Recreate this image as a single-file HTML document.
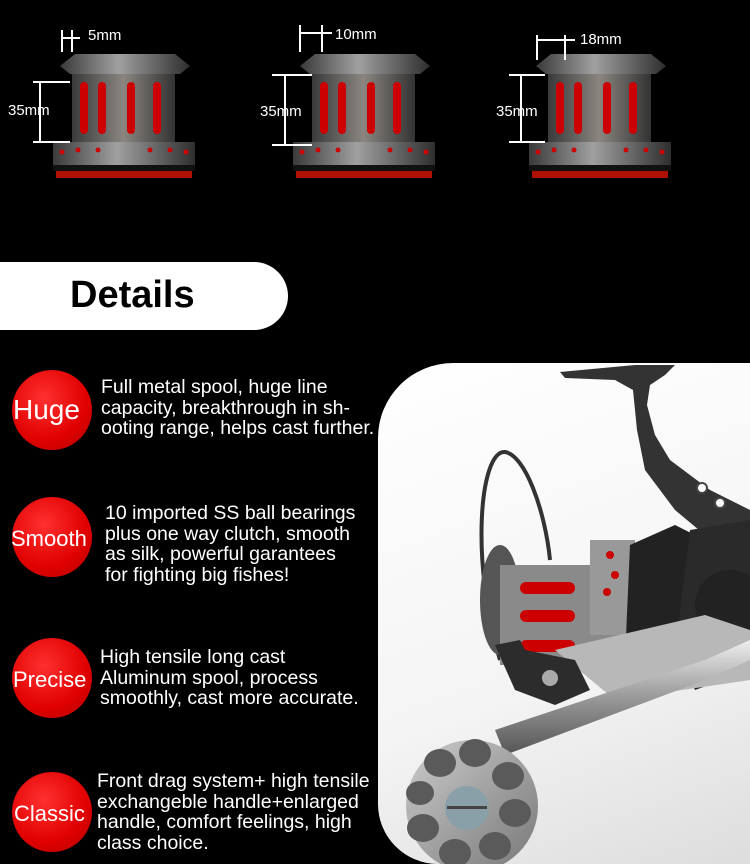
<!DOCTYPE html>
<html><head><meta charset="utf-8"><style>
body{margin:0;background:#000;}
#c{position:relative;width:750px;height:864px;background:#000;overflow:hidden;font-family:"Liberation Sans",sans-serif;color:#fff;}
.t{position:absolute;font-size:19.5px;line-height:20.5px;white-space:nowrap}
.circ{position:absolute;width:80px;height:80px;border-radius:50%;background:radial-gradient(circle at 40% 35%,#ff3030,#e00000 60%,#b00000);}
.lab{position:absolute;font-size:22px;white-space:nowrap;color:#fff}
</style></head><body><div id="c">
<svg width="750" height="200" style="position:absolute;left:0;top:0">
<defs>
<linearGradient id="m" x1="0" x2="1"><stop offset="0" stop-color="#3a3a3a"/><stop offset=".45" stop-color="#a0a0a0"/><stop offset="1" stop-color="#2e2e2e"/></linearGradient>
<linearGradient id="b" x1="0" x2="1"><stop offset="0" stop-color="#3a3a3a"/><stop offset=".5" stop-color="#8a8580"/><stop offset="1" stop-color="#333"/></linearGradient>
</defs>
<g id="s1">
<rect x="72" y="70" width="103" height="74" fill="url(#b)"/>
<rect x="80" y="82" width="8" height="52" rx="4" fill="#c00"/><rect x="98" y="82" width="8" height="52" rx="4" fill="#c00"/><rect x="127" y="82" width="8" height="52" rx="4" fill="#c00"/><rect x="153" y="82" width="8" height="52" rx="4" fill="#c00"/>
<path d="M75 54 H175 L190 66 L180 74 H70 L60 66Z" fill="url(#m)"/>
<rect x="53" y="142" width="142" height="28" fill="url(#m)"/>
<g fill="#c00"><circle cx="62" cy="152" r="2.5"/><circle cx="78" cy="150" r="2.5"/><circle cx="98" cy="150" r="2.5"/><circle cx="150" cy="150" r="2.5"/><circle cx="170" cy="150" r="2.5"/><circle cx="186" cy="152" r="2.5"/></g>
<rect x="53" y="165" width="142" height="6" fill="#111"/>
<rect x="56" y="171" width="136" height="7" fill="#b01000"/>
</g>
<use href="#s1" x="240"/>
<use href="#s1" x="476"/>
<g stroke="#fff" stroke-width="2" fill="none">
<path d="M62 30V52M72 30V52M62 38H80M33 82H70M33 142H70M40 82V142"/>
<path d="M300 25V52M322 25V52M300 33H332M272 75H312M272 145H312M285 75V145"/>
<path d="M537 35V60M565 35V60M537 40H575M509 75H545M509 142H545M521 75V142"/>
</g>
<g fill="#fff" font-family="Liberation Sans" font-size="15">
<text x="88" y="40">5mm</text><text x="335" y="39">10mm</text><text x="580" y="44">18mm</text>
<text x="8" y="115">35mm</text><text x="260" y="116">35mm</text><text x="496" y="116">35mm</text>
</g>
</svg>
<div style="position:absolute;left:0;top:262px;width:288px;height:68px;background:#fff;border-radius:0 34px 34px 0"></div>
<div style="position:absolute;left:70px;top:274px;font-size:38px;font-weight:bold;color:#000">Details</div>

<div style="position:absolute;left:378px;top:363px;width:372px;height:501px;background:linear-gradient(160deg,#fff,#f4f4f4 60%,#ddd);border-radius:75px 0 0 60px"></div>
<svg width="375" height="504" style="position:absolute;left:375px;top:360px">
<defs>
<linearGradient id="k" x1="0" x2="1" y1="0" y2="1"><stop offset="0" stop-color="#ccc"/><stop offset="1" stop-color="#777"/></linearGradient>
<linearGradient id="h" x1="0" x2="0" y1="0" y2="1"><stop offset="0" stop-color="#eee"/><stop offset=".5" stop-color="#999"/><stop offset="1" stop-color="#555"/></linearGradient>
</defs>
<path d="M185 12 L260 5 L300 5 L290 15 L275 25 L272 45 L280 75 L295 100 L335 130 L375 150 L375 200 L330 175 L300 150 L270 110 L262 70 L258 30 L240 20 L190 18Z" fill="#333"/>
<circle cx="327" cy="128" r="5" fill="#fff" stroke="#444" stroke-width="2"/><circle cx="345" cy="143" r="5" fill="#fff" stroke="#444" stroke-width="2"/>
<path d="M125 300 C95 200 105 90 130 92 C150 95 170 150 175 200" stroke="#333" stroke-width="4" fill="none"/>
<ellipse cx="125" cy="240" rx="20" ry="55" fill="#555"/>
<rect x="125" y="205" width="130" height="100" fill="#8a8a8a"/>
<rect x="215" y="180" width="45" height="95" fill="#999"/>
<g fill="#c00"><rect x="145" y="222" width="55" height="12" rx="6"/><rect x="145" y="250" width="55" height="12" rx="6"/><rect x="145" y="280" width="55" height="12" rx="6"/><circle cx="235" cy="195" r="4"/><circle cx="240" cy="215" r="4"/><circle cx="232" cy="232" r="4"/></g>
<path d="M255 185 L300 165 L320 175 L330 200 L310 260 L250 300Z" fill="#222"/>
<path d="M315 170 L375 160 L375 310 L320 330 L300 290Z" fill="#2a2a2a"/>
<circle cx="355" cy="245" r="35" fill="#222"/>
<path d="M180 290 L330 255 L375 270 L375 320 L240 340 Z" fill="#b8b8b8"/>
<path d="M120 285 L145 280 L150 290 L200 300 L215 330 L180 345 L140 330Z" fill="#2c2c2c"/>
<circle cx="175" cy="318" r="8" fill="#aaa"/>
<path d="M120 370 L330 300 L375 280 L375 300 L330 320 L130 395Z" fill="url(#h)"/>
<circle cx="97" cy="446" r="66" fill="url(#k)"/>
<g fill="#5a5a5a"><ellipse cx="65" cy="403" rx="16" ry="14"/><ellipse cx="100" cy="393" rx="16" ry="14"/><ellipse cx="133" cy="416" rx="16" ry="14"/><ellipse cx="140" cy="453" rx="16" ry="14"/><ellipse cx="120" cy="486" rx="16" ry="14"/><ellipse cx="80" cy="493" rx="16" ry="14"/><ellipse cx="48" cy="468" rx="16" ry="14"/><ellipse cx="45" cy="433" rx="14" ry="12"/></g>
<circle cx="92" cy="448" r="22" fill="#8aa0a8"/><rect x="72" y="446" width="40" height="3" fill="#444"/>
</svg>

<div class="circ" style="left:12px;top:370px"></div><div class="lab" style="left:13px;top:394px;font-size:28px">Huge</div>
<div class="circ" style="left:12px;top:497px"></div><div class="lab" style="left:11px;top:526px">Smooth</div>
<div class="circ" style="left:12px;top:638px"></div><div class="lab" style="left:13px;top:667px">Precise</div>
<div class="circ" style="left:12px;top:772px"></div><div class="lab" style="left:14px;top:801px">Classic</div>

<div class="t" style="left:101px;top:377px">Full metal spool, huge line<br>capacity, breakthrough in sh-<br>ooting range, helps cast further.</div>
<div class="t" style="left:105px;top:503px">10 imported SS ball bearings<br>plus one way clutch, smooth<br>as silk, powerful garantees<br>for fighting big fishes!</div>
<div class="t" style="left:100px;top:647px">High tensile long cast<br>Aluminum spool, process<br>smoothly, cast more accurate.</div>
<div class="t" style="left:97px;top:771px">Front drag system+ high tensile<br>exchangeble handle+enlarged<br>handle, comfort feelings, high<br>class choice.</div>
</div></body></html>
